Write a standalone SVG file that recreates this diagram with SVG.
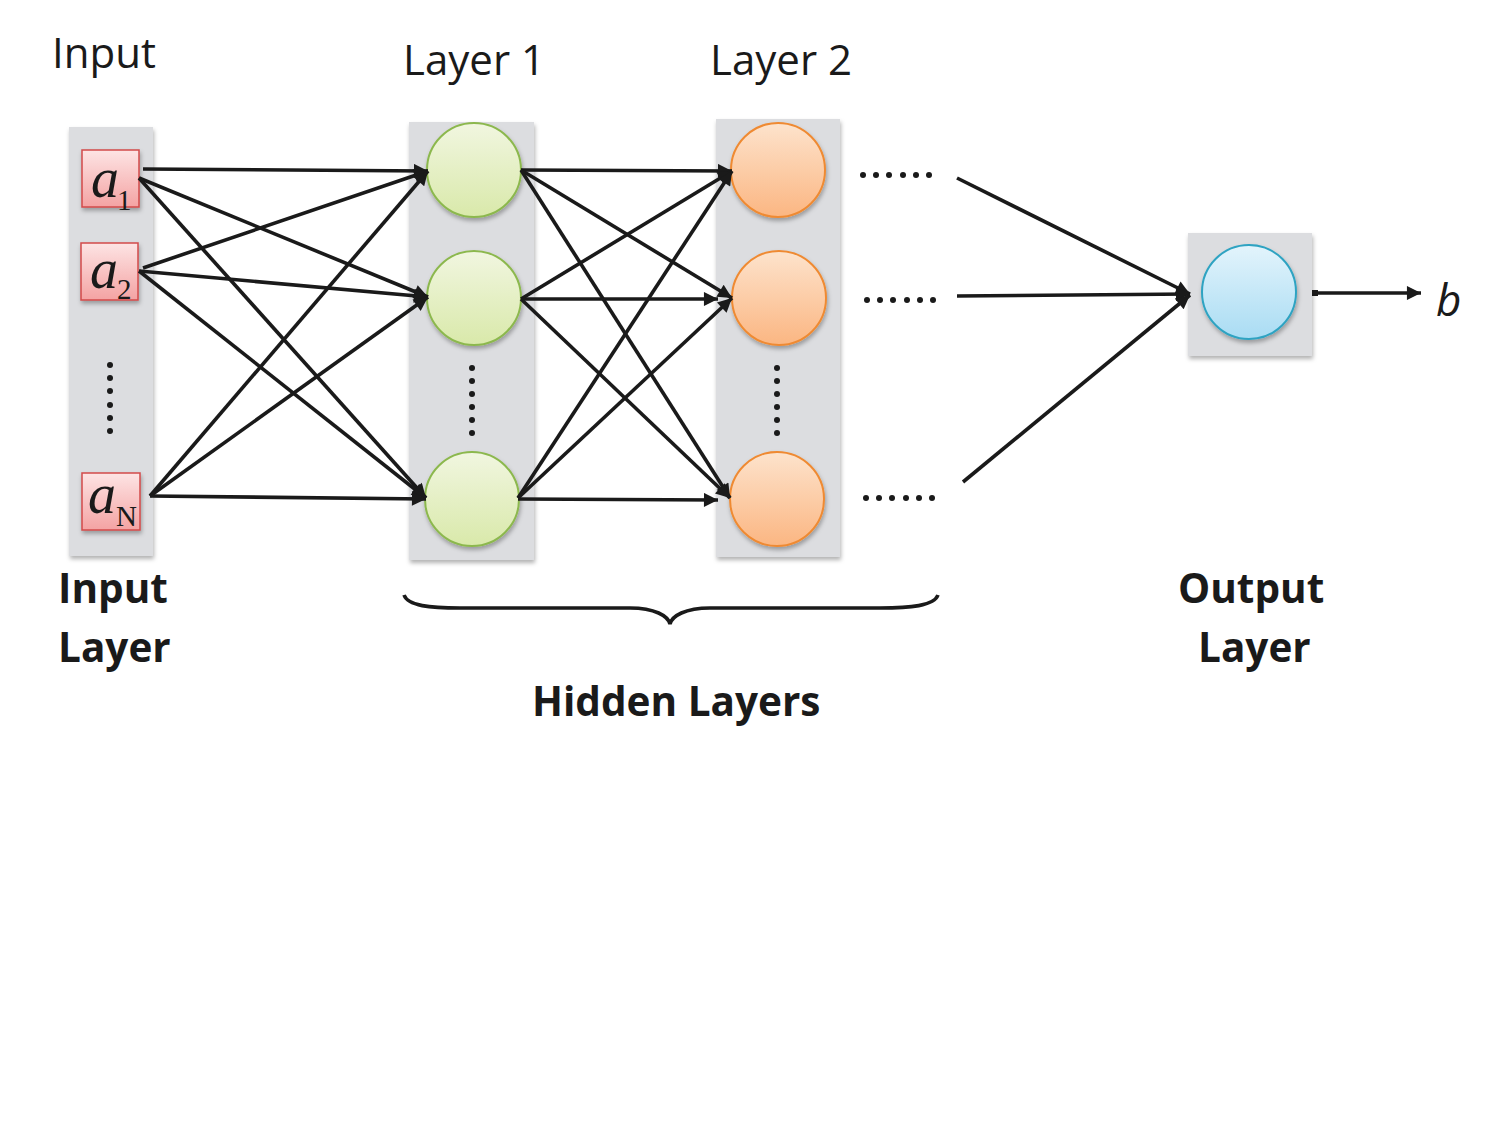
<svg xmlns="http://www.w3.org/2000/svg" width="1500" height="1125" viewBox="0 0 1500 1125">
<defs>
<filter id="sh" x="-20%" y="-20%" width="140%" height="140%">
<feDropShadow dx="1" dy="3" stdDeviation="2" flood-color="#000" flood-opacity="0.3"/>
</filter>
<linearGradient id="gPink" x1="0" y1="0" x2="0" y2="1"><stop offset="0" stop-color="#fde4e4"/><stop offset="1" stop-color="#f4a3a3"/></linearGradient>
<linearGradient id="gGreen" x1="0" y1="0" x2="0" y2="1"><stop offset="0" stop-color="#f1f6e0"/><stop offset="1" stop-color="#d9e9aa"/></linearGradient>
<linearGradient id="gOrange" x1="0" y1="0" x2="0" y2="1"><stop offset="0" stop-color="#fde3cc"/><stop offset="1" stop-color="#fbb682"/></linearGradient>
<linearGradient id="gBlue" x1="0" y1="0" x2="0" y2="1"><stop offset="0" stop-color="#e3f4fc"/><stop offset="1" stop-color="#a9dcf3"/></linearGradient>
<marker id="ah" viewBox="0 0 10 10" refX="10" refY="5" markerWidth="4.8" markerHeight="3.9" markerUnits="strokeWidth" orient="auto"><path d="M0,0 L10,5 L0,10 z" fill="#1a1a1a"/></marker>
</defs>
<style>
.panel{fill:#dcdde0;filter:url(#sh);}
.box{fill:url(#gPink);stroke:#d24a4a;stroke-width:1.5;filter:url(#sh);}
.cg{fill:url(#gGreen);stroke:#8cb84e;stroke-width:2;filter:url(#sh);}
.co{fill:url(#gOrange);stroke:#ef8a32;stroke-width:2;filter:url(#sh);}
.cb{fill:url(#gBlue);stroke:#2ea3c2;stroke-width:2;filter:url(#sh);}
.ln{stroke:#1a1a1a;stroke-width:3.6;fill:none;marker-end:url(#ah);}
.ln0{stroke:#1a1a1a;stroke-width:3.6;fill:none;}
.dot{fill:#1a1a1a;}
.t{font-family:'Open Sans','Liberation Sans',sans-serif;font-size:42px;fill:#1a1a1a;}
.tb{font-family:'Open Sans','Liberation Sans',sans-serif;font-size:40.5px;font-weight:bold;fill:#1a1a1a;}
.var{font-family:'Liberation Serif','Times New Roman',serif;font-style:italic;font-size:56px;fill:#1a1a1a;}
.sub{font-family:'Liberation Serif','Times New Roman',serif;font-size:29px;fill:#1a1a1a;}
</style>

<g id="input-layer">
<rect class="panel" x="69" y="127" width="84" height="429"/>
<g id="a1"><rect class="box" x="82" y="150" width="57" height="57"/><text class="var" x="91" y="197">a</text><text class="sub" x="117" y="210">1</text></g>
<g id="a2"><rect class="box" x="81" y="243" width="57" height="57"/><text class="var" x="90" y="288">a</text><text class="sub" x="117" y="299">2</text></g>
<g id="aN"><rect class="box" x="82" y="473" width="58" height="57"/><text class="var" x="88" y="513">a</text><text class="sub" x="116" y="526">N</text></g>
<g id="input-dots"><circle class="dot" cx="110" cy="365" r="3"/><circle class="dot" cx="110" cy="378" r="3"/><circle class="dot" cx="110" cy="391" r="3"/><circle class="dot" cx="110" cy="405" r="3"/><circle class="dot" cx="110" cy="418" r="3"/><circle class="dot" cx="110" cy="431" r="3"/></g>
</g>

<g id="layer1">
<rect class="panel" x="409" y="122" width="125" height="438"/>
<circle id="h1-1" class="cg" cx="474" cy="170" r="47"/>
<circle id="h1-2" class="cg" cx="474" cy="298" r="47"/>
<circle id="h1-3" class="cg" cx="472" cy="499" r="47"/>
<g><circle class="dot" cx="472" cy="368" r="3"/><circle class="dot" cx="472" cy="381" r="3"/><circle class="dot" cx="472" cy="394" r="3"/><circle class="dot" cx="472" cy="407" r="3"/><circle class="dot" cx="472" cy="420" r="3"/><circle class="dot" cx="472" cy="433" r="3"/></g>
</g>

<g id="layer2">
<rect class="panel" x="716" y="119" width="124" height="438"/>
<circle id="h2-1" class="co" cx="778" cy="170" r="47"/>
<circle id="h2-2" class="co" cx="779" cy="298" r="47"/>
<circle id="h2-3" class="co" cx="777" cy="499" r="47"/>
<g><circle class="dot" cx="777" cy="368" r="3"/><circle class="dot" cx="777" cy="381" r="3"/><circle class="dot" cx="777" cy="394" r="3"/><circle class="dot" cx="777" cy="407" r="3"/><circle class="dot" cx="777" cy="420" r="3"/><circle class="dot" cx="777" cy="433" r="3"/></g>
</g>

<g id="more-dots">
<g><circle class="dot" cx="863" cy="175" r="3"/><circle class="dot" cx="876" cy="175" r="3"/><circle class="dot" cx="889" cy="175" r="3"/><circle class="dot" cx="903" cy="175" r="3"/><circle class="dot" cx="916" cy="175" r="3"/><circle class="dot" cx="929" cy="175" r="3"/></g>
<g><circle class="dot" cx="867" cy="300" r="3"/><circle class="dot" cx="880" cy="300" r="3"/><circle class="dot" cx="893" cy="300" r="3"/><circle class="dot" cx="907" cy="300" r="3"/><circle class="dot" cx="920" cy="300" r="3"/><circle class="dot" cx="933" cy="300" r="3"/></g>
<g><circle class="dot" cx="866" cy="498" r="3"/><circle class="dot" cx="879" cy="498" r="3"/><circle class="dot" cx="892" cy="498" r="3"/><circle class="dot" cx="906" cy="498" r="3"/><circle class="dot" cx="919" cy="498" r="3"/><circle class="dot" cx="932" cy="498" r="3"/></g>
</g>

<g id="output-layer">
<rect class="panel" x="1188" y="233" width="124" height="123"/>
<circle id="out" class="cb" cx="1249" cy="292" r="47"/>
</g>

<g id="connectors">
<line class="ln" x1="143" y1="169" x2="428" y2="171"/>
<line class="ln" x1="139" y1="178" x2="428" y2="297"/>
<line class="ln" x1="139" y1="178" x2="426" y2="498"/>
<line class="ln" x1="143" y1="268" x2="428" y2="171"/>
<line class="ln" x1="139" y1="271" x2="428" y2="297"/>
<line class="ln" x1="139" y1="271" x2="426" y2="498"/>
<line class="ln" x1="150" y1="496" x2="428" y2="171"/>
<line class="ln" x1="150" y1="496" x2="428" y2="297"/>
<line class="ln" x1="150" y1="496" x2="426" y2="499"/>

<line class="ln" x1="521" y1="170" x2="732" y2="171"/>
<line class="ln" x1="521" y1="170" x2="732" y2="298"/>
<line class="ln" x1="521" y1="170" x2="730" y2="498"/>
<line class="ln" x1="521" y1="299" x2="732" y2="171"/>
<line class="ln" x1="521" y1="299" x2="718" y2="299"/>
<line class="ln" x1="521" y1="299" x2="730" y2="498"/>
<line class="ln" x1="518" y1="498" x2="732" y2="171"/>
<line class="ln" x1="518" y1="498" x2="732" y2="298"/>
<line class="ln" x1="518" y1="499" x2="718" y2="500"/>

<line class="ln" x1="957" y1="178" x2="1190" y2="294"/>
<line class="ln" x1="957" y1="296" x2="1190" y2="294"/>
<line class="ln" x1="963" y1="482" x2="1190" y2="295"/>

<rect x="1312" y="290" width="6" height="6" fill="#1a1a1a"/>
<line class="ln" x1="1313" y1="293" x2="1421" y2="293"/>

<path id="brace" class="ln0" d="M404,595 C408,606 430,608 460,608 L630,608 C655,608 668,616 670,624 C672,616 685,608 710,608 L880,608 C910,608 934,606 938,595"/>
</g>

<g id="labels">
<text class="t" x="52" y="68">Input</text>
<text class="t" x="403" y="75">Layer 1</text>
<text class="t" x="710" y="75">Layer 2</text>
<text class="tb" x="58" y="603">Input</text>
<text class="tb" x="58" y="662">Layer</text>
<text class="tb" x="532" y="716">Hidden Layers</text>
<text class="tb" x="1178" y="603">Output</text>
<text class="tb" x="1198" y="662">Layer</text>
<text x="1436" y="316" style="font-family:'Open Sans','Liberation Sans',sans-serif;font-style:italic;font-size:44px;fill:#1a1a1a;">b</text>
</g>
</svg>
